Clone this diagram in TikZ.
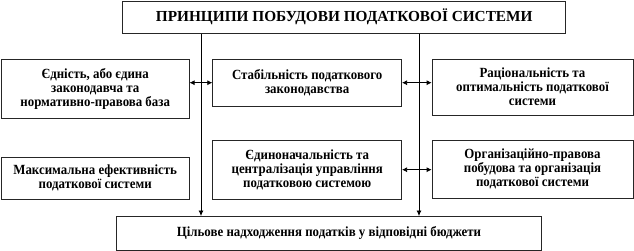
\documentclass[tikz,border=0pt]{standalone}
\usepackage{fontspec}
\setmainfont{Liberation Serif}
\newfontfamily\bodyfont[FakeStretch=0.92]{Liberation Serif}
\usepackage{tikz}
\usetikzlibrary{arrows.meta}

\tikzset{
  principle/.style={draw=black!85, line width=0.7pt, inner sep=1pt, align=center,
    font=\bodyfont\fontsize{14}{14}\selectfont\bfseries},
  link/.style={{Latex[length=5pt,width=5pt]}-{Latex[length=5pt,width=5pt]}, line width=0.7pt},
  flow/.style={-{Latex[length=5.5pt,width=5pt]}, line width=0.7pt}
}

\begin{document}
\begin{tikzpicture}[x=1pt,y=-1pt]
\useasboundingbox (0,0) rectangle (634,251);
\node[principle, minimum width=443pt, minimum height=32.5pt,
  font=\fontsize{15.3}{17}\selectfont\bfseries] (title) at (344.2,17.2)
  {ПРИНЦИПИ ПОБУДОВИ ПОДАТКОВОЇ СИСТЕМИ};
\node[principle, minimum width=188pt, minimum height=59pt] (unity) at (95.2,88.8)
  {Єдність, або єдина\\законодавча та\\нормативно-правова база};
\node[principle, minimum width=189pt, minimum height=46.7pt] (stable) at (307.2,82.7)
  {Стабільність податкового\\законодавства};
\node[principle, minimum width=201pt, minimum height=55.7pt] (ration) at (532.5,87.2)
  {Раціональність та\\оптимальність податкової\\системи};
\node[principle, minimum width=188pt, minimum height=41.7pt] (effect) at (95.2,178.2)
  {Максимальна ефективність\\податкової системи};
\node[principle, minimum width=189pt, minimum height=59.3pt] (central) at (307.2,169.7)
  {Єдиноначальність та\\централізація управління\\податковою системою};
\node[principle, minimum width=201pt, minimum height=58.3pt] (organ) at (532.5,169.2)
  {Організаційно-правова\\побудова та організація\\податкової системи};
\node[principle, minimum width=425.4pt, minimum height=33.7pt] (budget) at (329,233.2)
  {Цільове надходження податків у відповідні бюджети};
% vertical lines
\coordinate (lineL) at (201,0);
\coordinate (lineR) at (419,0);
\draw[flow] (title.south -| lineL) -- (budget.north -| lineL);
\draw[flow] (title.south -| lineR) -- (budget.north -| lineR);
% links between principles
\draw[link] (unity.east |- stable.west) -- (stable.west);
\draw[link] (stable.east) -- (ration.west |- stable.east);
\draw[link] (central.east) -- (organ.west |- central.east);
\end{tikzpicture}
\end{document}
